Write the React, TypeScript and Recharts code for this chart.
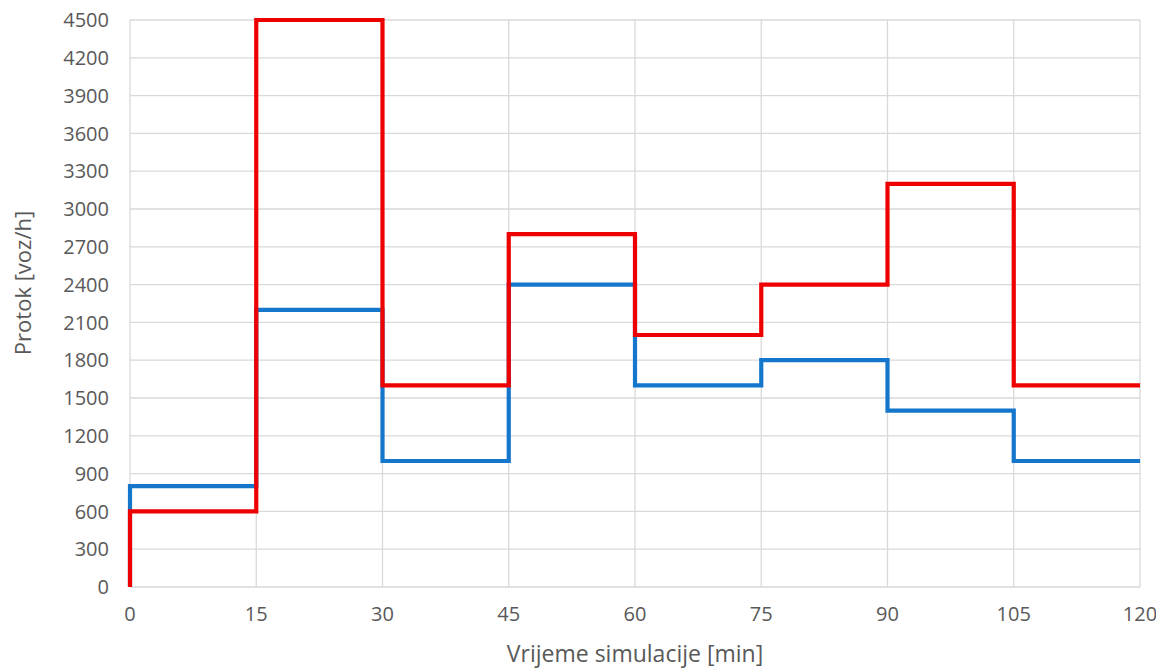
import { LineChart, Line, XAxis, YAxis, CartesianGrid } from "recharts";

// time breakpoints in minutes (first 0 repeated so the line rises from zero)
const TIMES = [0, 0, 15, 30, 45, 60, 75, 90, 105, 120];
const BLUE_FLOW = [0, 800, 2200, 1000, 2400, 1600, 1800, 1400, 1000, 1000];
const RED_FLOW = [0, 600, 4500, 1600, 2800, 2000, 2400, 3200, 1600, 1600];

const X_TICKS = [0, 15, 30, 45, 60, 75, 90, 105, 120];
const Y_TICKS = [0, 300, 600, 900, 1200, 1500, 1800, 2100, 2400, 2700, 3000, 3300, 3600, 3900, 4200, 4500];

const data = TIMES.map((t, i) => ({ t, blue: BLUE_FLOW[i], red: RED_FLOW[i] }));

const FONT = "'Open Sans', sans-serif";
const TEXT = "#595959";

const YTitle = () => (
  <text
    x={22}
    y={283}
    transform="rotate(-90 22 283)"
    textAnchor="middle"
    dominantBaseline="central"
    fill={TEXT}
    fontSize={22}
    fontFamily={FONT}
  >
    Protok [voz/h]
  </text>
);

const XTitle = () => (
  <text x={635} y={653} textAnchor="middle" dominantBaseline="central" fill={TEXT} fontSize={23} fontFamily={FONT}>
    Vrijeme simulacije [min]
  </text>
);

export default function App() {
  return (
    <div style={{ background: "#fff", width: 1164, height: 668, margin: "-8px 0 0 -8px" }}>
      <LineChart width={1164} height={668} data={data} margin={{ top: 20, right: 24, left: 8, bottom: 0 }}>
        <CartesianGrid stroke="#d9d9d9" strokeWidth={1.3} />
        <XAxis
          dataKey="t"
          type="number"
          domain={[0, 120]}
          ticks={X_TICKS}
          tickLine={false}
          axisLine={false}
          tickSize={0}
          tickMargin={20}
          height={81}
          tick={{ fill: TEXT, fontSize: 20, fontFamily: FONT }}
          label={<XTitle />}
        />
        <YAxis
          type="number"
          domain={[0, 4500]}
          ticks={Y_TICKS}
          interval={0}
          tickLine={false}
          axisLine={false}
          tickSize={0}
          tickMargin={21}
          width={122}
          tick={{ fill: TEXT, fontSize: 20, fontFamily: FONT }}
          label={<YTitle />}
        />
        <Line type="stepAfter" dataKey="blue" stroke="#1477cc" strokeWidth={4.2} dot={false} isAnimationActive={false} />
        <Line type="stepAfter" dataKey="red" stroke="#ee0000" strokeWidth={4.2} dot={false} isAnimationActive={false} />
      </LineChart>
    </div>
  );
}
